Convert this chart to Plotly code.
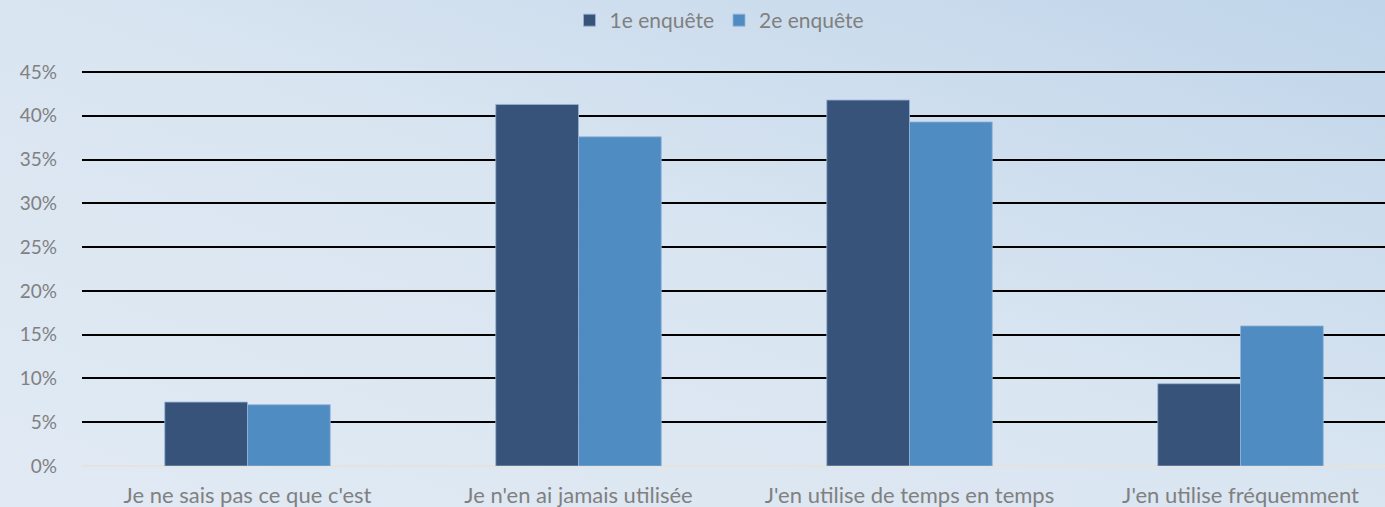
import plotly.graph_objects as go

categories = ["Je ne sais pas ce que c'est", "Je n'en ai jamais utilisée",
              "J'en utilise de temps en temps", "J'en utilise fréquemment"]
series_names = ["1e enquête", "2e enquête"]
enquete1 = [0.073, 0.413, 0.418, 0.094]
enquete2 = [0.070, 0.376, 0.393, 0.160]
tick_vals = [0, 0.05, 0.10, 0.15, 0.20, 0.25, 0.30, 0.35, 0.40, 0.45]
tick_text = ["0%", "5%", "10%", "15%", "20%", "25%", "30%", "35%", "40%", "45%"]
colors = ["#38537a", "#4f8cc1"]

W, H = 1406, 507
L, T, B = 82, 71, 41
PW, PH = W - L, H - T - B

fig = go.Figure()
for name, vals, c in zip(series_names, [enquete1, enquete2], colors):
    fig.add_trace(go.Bar(x=categories, y=vals, name=name, marker_color=c,
                         marker_line=dict(color="rgba(150,180,215,0.8)", width=1)))

svg = ("data:image/svg+xml;utf8,<svg xmlns='http://www.w3.org/2000/svg' width='1385' height='507'>"
       "<defs><linearGradient id='g' x1='0' y1='1' x2='1' y2='0'>"
       "<stop offset='0' stop-color='%23e1eaf4'/><stop offset='0.5' stop-color='%23d9e5f1'/>"
       "<stop offset='1' stop-color='%23c0d5ea'/></linearGradient></defs>"
       "<rect width='1385' height='507' fill='url(%23g)'/></svg>")

fig.update_layout(
    width=W, height=H,
    margin=dict(l=L, r=0, t=T, b=B),
    paper_bgcolor="#dbe6f2", plot_bgcolor="rgba(0,0,0,0)",
    barmode="group", bargap=0.5, bargroupgap=0,
    font=dict(family="Lato, Open Sans, sans-serif", color="#808080", size=18),
    legend=dict(orientation="h", x=(719 - L) / PW, xanchor="center", y=1.0, yref="container",
                yanchor="top", font=dict(size=21, color="#808080"),
                bgcolor="rgba(0,0,0,0)", itemwidth=30, tracegroupgap=0),
    images=[dict(source=svg, xref="paper", yref="paper", x=-L / PW, y=1 + T / PH,
                 sizex=1385 / PW, sizey=H / PH, sizing="stretch", layer="below",
                 xanchor="left", yanchor="top")],
)
fig.update_xaxes(showline=False, ticks="", ticklabelstandoff=14,
                 tickfont=dict(size=22, color="#808080"))
fig.update_yaxes(range=[0, 0.4512], tickvals=tick_vals, ticktext=tick_text,
                 showgrid=True, gridcolor="#000000", gridwidth=2,
                 zeroline=True, zerolinecolor="#e6e2dc", zerolinewidth=2,
                 ticklabelstandoff=24, tickfont=dict(size=19, color="#808080"))

fig.write_html("out.html", config={"displayModeBar": False},
               post_script="document.body.style.margin='0';document.body.style.overflow='hidden';")
